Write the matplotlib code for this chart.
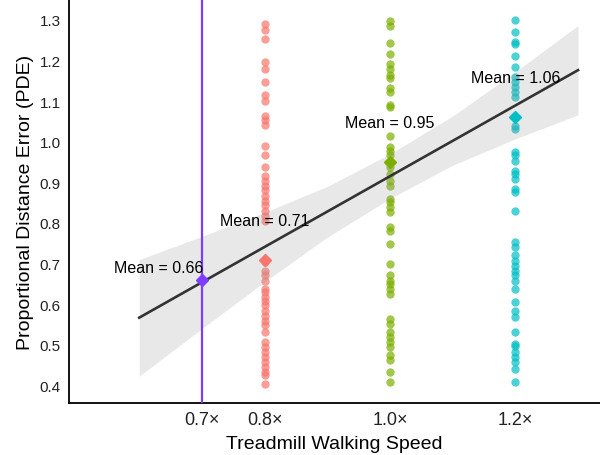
import matplotlib
matplotlib.use("Agg")
import matplotlib.pyplot as plt
import numpy as np

plt.rcParams["font.family"] = ["Liberation Sans", "DejaVu Sans"]

# ── Data ────────────────────────────────────────────────────────────────────
speeds = [0.8, 1.0, 1.2]
speed_colors = ["#F8766D", "#7CAE00", "#00BFC4"]

pde_08 = [1.289, 1.275, 1.253, 1.197, 1.180, 1.146, 1.115, 1.101, 1.064, 1.054,
          1.041, 0.990, 0.967, 0.937, 0.916, 0.904, 0.892, 0.880, 0.867, 0.855,
          0.843, 0.830, 0.818, 0.806, 0.703, 0.683, 0.671, 0.658, 0.638, 0.630,
          0.617, 0.609, 0.597, 0.584, 0.572, 0.560, 0.548, 0.531, 0.507, 0.495,
          0.482, 0.470, 0.458, 0.445, 0.433, 0.425, 0.404]
pde_10 = [1.298, 1.284, 1.242, 1.216, 1.191, 1.180, 1.164, 1.157, 1.131, 1.121,
          1.090, 1.085, 1.015, 0.986, 0.978, 0.966, 0.937, 0.921, 0.904, 0.892,
          0.859, 0.851, 0.839, 0.826, 0.790, 0.781, 0.748, 0.699, 0.671, 0.658,
          0.650, 0.638, 0.626, 0.564, 0.552, 0.531, 0.519, 0.507, 0.495, 0.474,
          0.462, 0.433, 0.408]
pde_12 = [1.300, 1.269, 1.246, 1.240, 1.211, 1.183, 1.158, 1.146, 1.134, 1.121,
          1.109, 1.039, 1.030, 0.974, 0.966, 0.953, 0.929, 0.921, 0.908, 0.884,
          0.876, 0.830, 0.753, 0.740, 0.720, 0.707, 0.695, 0.683, 0.671, 0.658,
          0.638, 0.605, 0.584, 0.568, 0.531, 0.503, 0.498, 0.482, 0.470, 0.458,
          0.441, 0.408]
pde_groups = [pde_08, pde_10, pde_12]

group_means = [0.71, 0.95, 1.06]

# predicted speed
pred_speed = 0.7
pred_mean = 0.66
pred_color = "#7D3CFF"

# fitted line and its 95% band
fit_x = [0.6, 1.3]
fit_y = [0.567, 1.176]
band_x = [0.6, 0.7, 0.8, 0.9, 1.0, 1.1, 1.2, 1.3]
band_lo = [0.423, 0.540, 0.655, 0.765, 0.860, 0.942, 1.007, 1.066]
band_hi = [0.710, 0.767, 0.826, 0.890, 0.970, 1.063, 1.172, 1.286]

tick_vals = [0.7, 0.8, 1.0, 1.2]
tick_labels = ["0.7\u00d7", "0.8\u00d7", "1.0\u00d7", "1.2\u00d7"]

# ── Plot ────────────────────────────────────────────────────────────────────
fig = plt.figure(figsize=(6.0, 4.56), dpi=100)
ax = fig.add_axes([0.115, 0.114, 0.885, 0.886])

for spd, vals, col in zip(speeds, pde_groups, speed_colors):
    ax.scatter(np.full(len(vals), spd), vals, s=36, color=col, alpha=0.7,
               linewidths=0, zorder=2)

ax.fill_between(band_x, band_lo, band_hi, color="#999999", alpha=0.22,
                linewidth=0, zorder=3)
ax.plot(fit_x, fit_y, color="#333333", linewidth=1.9, zorder=4)

ax.axvline(pred_speed, color=pred_color, linewidth=1.6, zorder=4)

for spd, m, col in zip(speeds, group_means, speed_colors):
    ax.plot(spd, m, marker="D", markersize=6.5, color=col, zorder=5)
    ax.text(spd, m + 0.097, f"Mean = {m:.2f}", ha="center", va="center",
            fontsize=11.5, zorder=6)

ax.plot(pred_speed, pred_mean, marker="D", markersize=6.5, color=pred_color, zorder=5)
ax.text(pred_speed + 0.002, pred_mean + 0.03, f"Mean = {pred_mean:.2f}", ha="right",
        va="center", fontsize=11.5, zorder=6)

ax.set_xlim(0.488, 1.335)
ax.set_ylim(0.357, 1.351)
ax.set_xticks(tick_vals)
ax.set_xticklabels(tick_labels)
ax.set_yticks(np.round(np.arange(0.4, 1.31, 0.1), 1))
ax.tick_params(length=0, colors="#222222")
ax.tick_params(axis="x", labelsize=13, pad=6)
ax.tick_params(axis="y", labelsize=11, pad=6)

for side in ["top", "right"]:
    ax.spines[side].set_visible(False)
for side in ["left", "bottom"]:
    ax.spines[side].set_linewidth(1.3)

ax.set_xlabel("Treadmill Walking Speed", fontsize=14, labelpad=5)
ax.set_ylabel("Proportional Distance Error (PDE)", fontsize=14, labelpad=4)

fig.savefig("out.png", dpi=100)
